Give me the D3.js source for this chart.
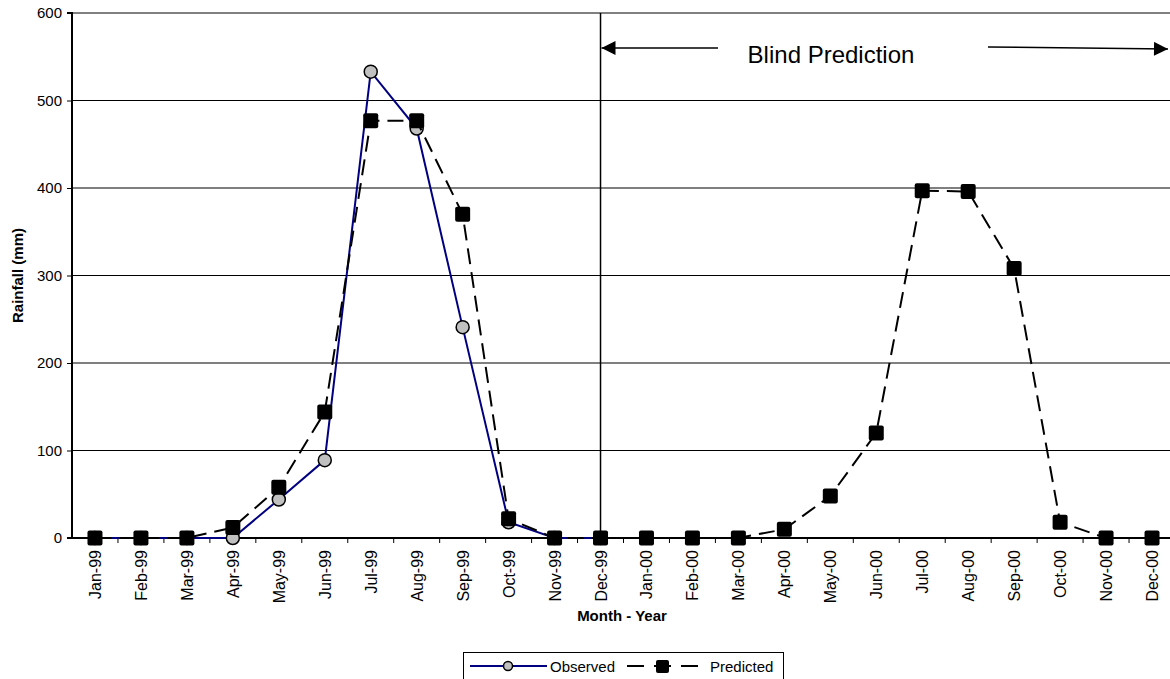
<!DOCTYPE html>
<html><head><meta charset="utf-8">
<script src="https://cdn.jsdelivr.net/npm/d3@7"></script>
<style>body{margin:0;background:#fff}svg{display:block;font-family:"Liberation Sans",Arial,sans-serif}</style>
</head><body><svg id="c" width="1170" height="679"></svg>
<script>
const months = ["Jan-99","Feb-99","Mar-99","Apr-99","May-99","Jun-99","Jul-99","Aug-99","Sep-99","Oct-99","Nov-99","Dec-99",
"Jan-00","Feb-00","Mar-00","Apr-00","May-00","Jun-00","Jul-00","Aug-00","Sep-00","Oct-00","Nov-00","Dec-00"];
const observed = [0,0,0,0,44,89,533,468,241,18,0,0];
const predicted = [0,0,0,12,58,144,477,477,370,22,0,0,0,0,0,10,48,120,397,396,308,18,0,0];
const yTicks = [0,100,200,300,400,500,600];

const FONT = "Liberation Sans, Arial, sans-serif";
const svg = d3.select("#c");
const L = 72, R = 1175, T = 13, B = 538;
const x = d3.scaleBand().domain(months).range([L, R]);
const y = d3.scaleLinear().domain([0, 600]).range([B, T]);
const cx = m => x(m) + x.bandwidth()/2;

// gridlines
svg.append("g").selectAll("line").data(yTicks.filter(t => t > 0 && t < 600)).join("line")
  .attr("x1", L).attr("x2", 1170).attr("y1", d => y(d)).attr("y2", d => y(d))
  .attr("stroke", "#000").attr("stroke-width", 1);
svg.append("line").attr("x1", L).attr("x2", 1170).attr("y1", y(600)).attr("y2", y(600))
  .attr("stroke", "#808080").attr("stroke-width", 2);

// y axis
const ya = svg.append("g").attr("transform", `translate(${L},0)`)
  .call(d3.axisLeft(y).tickValues(yTicks).tickSize(5).tickPadding(5));
ya.attr("font-family", FONT).attr("font-size", 15);
ya.select(".domain").attr("stroke", "#000").attr("stroke-width", 2).attr("d", `M-5,${y(600)}H0V${B}H-5`);
ya.selectAll("text").attr("fill", "#000");

// x axis
const xa = svg.append("g").attr("transform", `translate(0,${B})`).attr("font-family", FONT);
xa.append("line").attr("x1", L - 5).attr("x2", 1170).attr("stroke", "#000").attr("stroke-width", 2);
xa.selectAll(".tk").data(months).join("line").attr("class", "tk")
  .attr("x1", d => x(d) + x.bandwidth()).attr("x2", d => x(d) + x.bandwidth())
  .attr("y1", 0).attr("y2", 5).attr("stroke", "#000").attr("stroke-width", 1);
xa.selectAll("text").data(months).join("text")
  .attr("transform", d => `translate(${cx(d) + 6},${12}) rotate(-90)`)
  .attr("text-anchor", "end").attr("font-size", 16).text(d => d);

// Dec-99 vertical line
svg.append("line").attr("x1", cx("Dec-99")).attr("x2", cx("Dec-99")).attr("y1", T).attr("y2", B)
  .attr("stroke", "#000").attr("stroke-width", 1.5);

// Blind prediction annotation
const defs = svg.append("defs");
defs.append("marker").attr("id", "ah").attr("viewBox", "0 0 10 10").attr("refX", 10).attr("refY", 5)
  .attr("markerWidth", 20).attr("markerHeight", 14).attr("markerUnits", "userSpaceOnUse").attr("orient", "auto")
  .append("path").attr("d", "M0,0L10,5L0,10Z").attr("fill", "#000");
svg.append("line").attr("x1", 718).attr("y1", 48).attr("x2", cx("Dec-99") + 1).attr("y2", 48)
  .attr("stroke", "#000").attr("stroke-width", 1.5).attr("marker-end", "url(#ah)");
svg.append("line").attr("x1", 988).attr("y1", 47).attr("x2", 1168).attr("y2", 49)
  .attr("stroke", "#000").attr("stroke-width", 1.5).attr("marker-end", "url(#ah)");
svg.append("text").attr("x", 831).attr("y", 63).attr("text-anchor", "middle").attr("font-family", FONT)
  .attr("font-size", 24).text("Blind Prediction");

// lines
const line = d3.line().x((d, i) => cx(months[i])).y(d => y(d));
svg.append("path").datum(observed).attr("d", line).attr("fill", "none").attr("stroke", "#000080").attr("stroke-width", 2);
svg.append("g").selectAll("circle").data(observed).join("circle")
  .attr("cx", (d, i) => cx(months[i])).attr("cy", d => y(d)).attr("r", 6.5)
  .attr("fill", "#c0c0c0").attr("stroke", "#000").attr("stroke-width", 1.5);
svg.append("path").datum(predicted).attr("d", line).attr("fill", "none").attr("stroke", "#000")
  .attr("stroke-width", 2).attr("stroke-dasharray", "16,8");
svg.append("g").selectAll("rect").data(predicted).join("rect")
  .attr("x", (d, i) => cx(months[i]) - 7.5).attr("y", d => y(d) - 7.5).attr("width", 15).attr("height", 15).attr("rx", 2)
  .attr("fill", "#000");

// axis titles
svg.append("text").attr("transform", `translate(23,${(T + B) / 2}) rotate(-90)`).attr("text-anchor", "middle")
  .attr("font-family", FONT).attr("font-size", 15).attr("font-weight", "bold").text("Rainfall (mm)");
svg.append("text").attr("x", 622).attr("y", 621).attr("text-anchor", "middle")
  .attr("font-family", FONT).attr("font-size", 15).attr("font-weight", "bold").text("Month - Year");

// legend
const lg = svg.append("g").attr("font-family", FONT);
lg.append("rect").attr("x", 463.5).attr("y", 652.5).attr("width", 320).attr("height", 35).attr("fill", "#fff").attr("stroke", "#000");
lg.append("line").attr("x1", 470).attr("x2", 547).attr("y1", 666).attr("y2", 666).attr("stroke", "#000080").attr("stroke-width", 2);
lg.append("circle").attr("cx", 508).attr("cy", 666).attr("r", 4.5).attr("fill", "#c0c0c0").attr("stroke", "#000").attr("stroke-width", 1.5);
lg.append("text").attr("x", 550).attr("y", 672).attr("font-size", 15).text("Observed");
lg.append("line").attr("x1", 627).attr("x2", 701).attr("y1", 666).attr("y2", 666).attr("stroke", "#000").attr("stroke-width", 2).attr("stroke-dasharray", "17,10");
lg.append("rect").attr("x", 656).attr("y", 660).attr("width", 13).attr("height", 13).attr("rx", 2).attr("fill", "#000");
lg.append("text").attr("x", 710).attr("y", 672).attr("font-size", 15).text("Predicted");
</script></body></html>
